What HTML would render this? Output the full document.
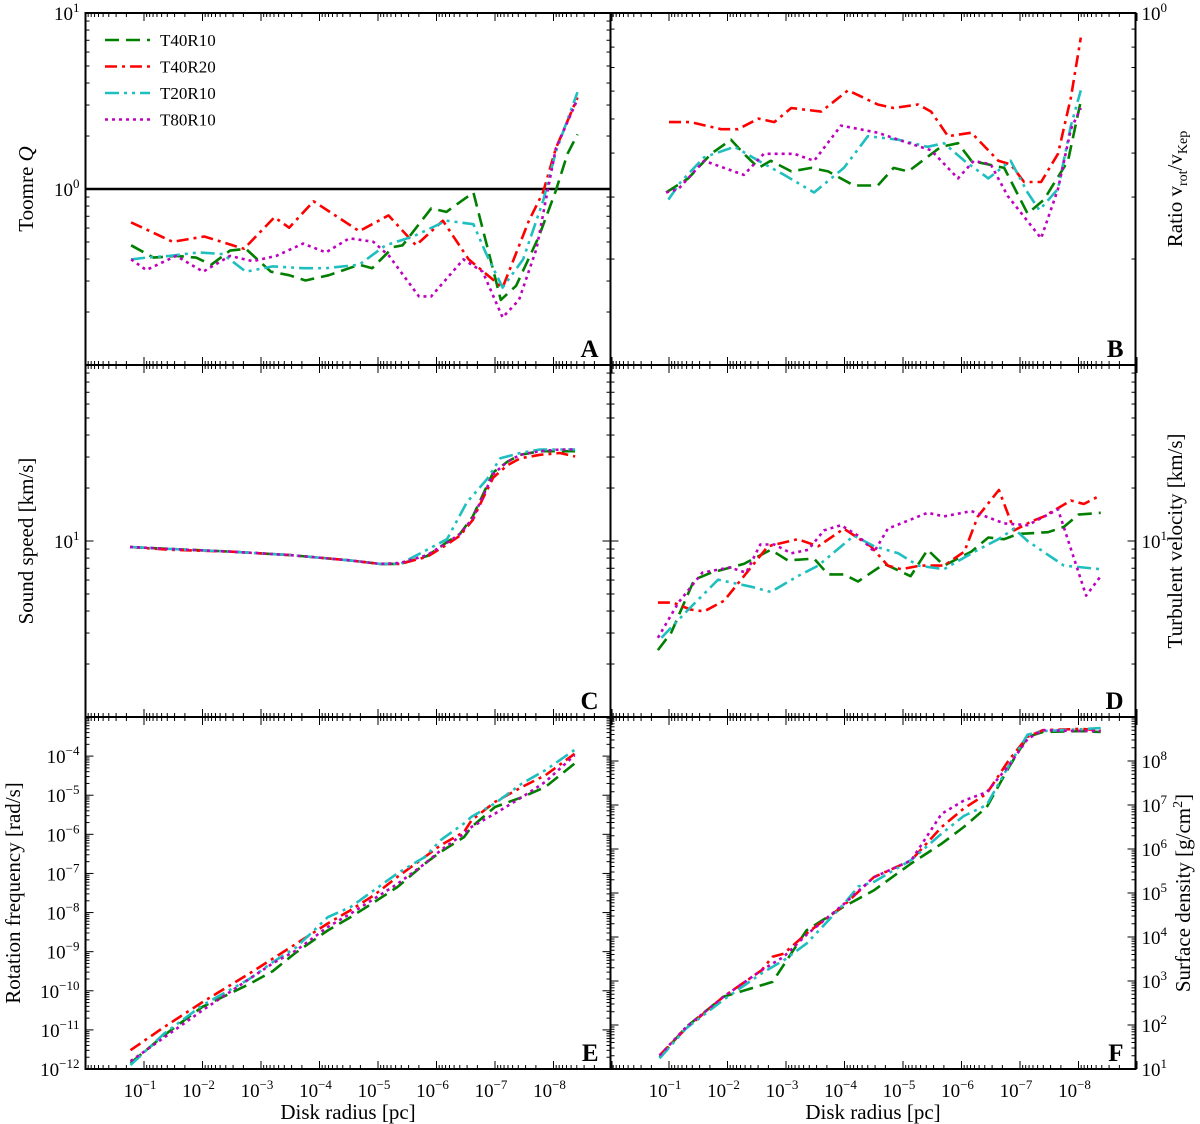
<!DOCTYPE html>
<html><head><meta charset="utf-8"><style>
body{margin:0;background:#fff}
svg{display:block}
text{font-family:"Liberation Serif",serif;fill:#000}
</style></head><body>
<svg id="fig" width="1200" height="1124" viewBox="0 0 1200 1124"></svg>
<script>
// x positions are -log10(radius/pc)
const uA_red=[0.78,1.49,2.03,2.71,3.23,3.48,3.90,4.68,5.18,5.65,6.11,6.55,7.13,7.58,7.82,8.04,8.41];
const vA_red=[-0.19,-0.30,-0.27,-0.34,-0.16,-0.22,-0.07,-0.24,-0.15,-0.32,-0.18,-0.40,-0.56,-0.18,-0.02,0.23,0.52];
const uA_green=[0.78,1.16,1.55,1.89,2.15,2.47,2.74,3.17,3.48,3.76,4.16,4.68,4.90,5.26,5.42,5.91,6.17,6.63,7.10,7.36,7.75,8.04,8.24,8.41];
const vA_green=[-0.32,-0.39,-0.38,-0.39,-0.43,-0.35,-0.34,-0.47,-0.49,-0.52,-0.49,-0.43,-0.45,-0.33,-0.32,-0.11,-0.13,-0.02,-0.63,-0.55,-0.27,-0.01,0.20,0.31];
const uA_cyan=[0.78,1.04,1.43,1.94,2.35,2.74,3.20,3.72,4.11,4.68,5.13,5.60,6.17,6.63,6.84,7.13,7.48,7.82,8.04,8.41];
const vA_cyan=[-0.40,-0.39,-0.38,-0.36,-0.37,-0.47,-0.44,-0.45,-0.45,-0.43,-0.32,-0.27,-0.18,-0.20,-0.36,-0.56,-0.40,-0.07,0.21,0.55];
const uA_mag=[0.78,1.04,1.55,2.01,2.47,2.86,3.26,3.72,4.11,4.51,4.92,5.19,5.70,5.91,6.46,6.79,7.13,7.41,7.71,7.87,8.04,8.41];
const vA_mag=[-0.40,-0.46,-0.38,-0.47,-0.38,-0.41,-0.38,-0.31,-0.36,-0.28,-0.30,-0.38,-0.61,-0.61,-0.40,-0.47,-0.73,-0.63,-0.34,-0.06,0.23,0.51];

const uB_red=[1.00,1.37,1.89,2.18,2.53,2.80,3.09,3.60,4.06,4.57,4.84,5.26,5.48,5.77,6.17,6.63,6.84,7.07,7.36,7.65,7.87,8.04];
const vB_red=[-0.31,-0.31,-0.33,-0.33,-0.30,-0.31,-0.27,-0.28,-0.22,-0.26,-0.27,-0.26,-0.28,-0.35,-0.34,-0.42,-0.43,-0.48,-0.48,-0.40,-0.24,-0.07];
const uB_green=[0.95,1.33,1.72,2.06,2.28,2.53,2.74,3.09,3.43,3.72,4.16,4.57,4.84,5.09,5.65,5.94,6.17,6.73,7.13,7.41,7.82,8.04];
const vB_green=[-0.51,-0.47,-0.40,-0.36,-0.40,-0.44,-0.42,-0.45,-0.44,-0.45,-0.49,-0.49,-0.44,-0.45,-0.38,-0.37,-0.42,-0.44,-0.57,-0.53,-0.42,-0.25];
const uB_cyan=[0.99,1.20,1.60,2.12,2.53,2.97,3.48,3.99,4.40,4.92,5.42,5.70,6.05,6.46,6.84,7.13,7.33,7.65,7.87,8.04];
const vB_cyan=[-0.53,-0.48,-0.41,-0.38,-0.42,-0.46,-0.51,-0.44,-0.35,-0.36,-0.38,-0.37,-0.42,-0.47,-0.42,-0.51,-0.56,-0.50,-0.32,-0.22];
const uB_mag=[0.95,1.16,1.60,2.28,2.62,3.14,3.48,3.94,4.57,4.92,5.48,5.94,6.21,6.50,6.79,7.36,7.65,7.87,8.04];
const vB_mag=[-0.51,-0.50,-0.42,-0.46,-0.40,-0.40,-0.42,-0.32,-0.34,-0.36,-0.39,-0.47,-0.42,-0.43,-0.52,-0.64,-0.50,-0.33,-0.27];

const uC=[0.76,1.44,2.47,3.50,4.52,5.03,5.38,5.84,6.18,6.40,6.62,6.79,6.97,7.21,7.43,7.77,8.11,8.37];
const vC_green=[0.966,0.955,0.94,0.92,0.89,0.87,0.87,0.915,0.994,1.04,1.14,1.26,1.39,1.45,1.49,1.51,1.51,1.51];
const vC_red=[0.966,0.950,0.94,0.92,0.89,0.87,0.87,0.91,0.98,1.03,1.12,1.24,1.36,1.43,1.47,1.49,1.50,1.48];
const vC_mag=[0.966,0.955,0.94,0.92,0.89,0.87,0.875,0.92,0.99,1.04,1.13,1.25,1.38,1.45,1.49,1.51,1.52,1.52];
const uC_cyan=[0.76,1.44,2.47,3.50,4.52,5.03,5.38,5.78,6.18,6.52,6.86,7.09,7.43,7.77,8.11,8.37];
const vC_cyan=[0.966,0.955,0.94,0.92,0.89,0.87,0.87,0.94,1.01,1.22,1.35,1.47,1.50,1.52,1.52,1.52];

const uD_red=[0.81,1.07,1.37,1.60,1.94,2.28,2.69,3.20,3.55,3.99,4.45,4.74,4.97,5.30,5.70,6.05,6.28,6.64,6.90,7.19,7.41,7.87,8.09,8.38];
const vD_red=[0.65,0.65,0.61,0.60,0.66,0.80,0.97,1.01,0.97,1.07,0.97,0.86,0.84,0.86,0.86,0.94,1.14,1.29,1.06,1.11,1.14,1.23,1.21,1.26];
const uD_green=[0.81,1.04,1.43,1.72,2.28,2.74,3.03,3.48,3.72,3.99,4.23,4.68,5.13,5.42,5.70,6.17,6.46,6.73,6.96,7.48,7.75,8.00,8.38];
const vD_green=[0.38,0.48,0.78,0.82,0.87,0.95,0.89,0.90,0.81,0.81,0.77,0.87,0.80,0.95,0.86,0.94,1.02,1.01,1.04,1.05,1.08,1.15,1.16];
const uD_cyan=[0.87,1.33,1.84,2.41,2.74,3.20,3.55,4.16,4.51,4.92,5.26,5.70,6.28,6.63,6.90,7.13,7.75,8.38];
const vD_cyan=[0.45,0.61,0.78,0.74,0.71,0.80,0.86,1.03,0.97,0.93,0.86,0.84,0.95,1.01,1.07,1.00,0.86,0.84];
const uD_mag=[0.81,1.16,1.57,2.04,2.32,2.56,2.80,3.09,3.38,3.65,3.94,4.23,4.51,4.74,5.42,5.70,6.17,6.73,7.13,7.65,8.13,8.38];
const vD_mag=[0.45,0.65,0.82,0.85,0.82,0.98,0.98,0.93,0.95,1.06,1.09,1.03,0.94,1.07,1.16,1.14,1.17,1.10,1.09,1.18,0.69,0.80];

const uE=[0.77,1.34,2.00,2.80,3.20,3.60,4.14,4.53,4.93,5.33,5.80,6.07,6.47,6.60,7.00,7.46,7.86,8.36];
const vE_red=[-11.52,-10.93,-10.29,-9.56,-9.18,-8.80,-8.28,-7.94,-7.56,-7.09,-6.58,-6.28,-5.94,-5.64,-5.17,-4.79,-4.49,-3.94];
const vE_green=[-11.85,-11.14,-10.41,-9.83,-9.50,-9.02,-8.46,-8.12,-7.74,-7.35,-6.75,-6.45,-6.07,-5.81,-5.30,-5.05,-4.79,-4.19];
const vE_cyan=[-11.90,-11.10,-10.37,-9.70,-9.27,-8.89,-8.12,-7.86,-7.43,-7.00,-6.58,-6.15,-5.72,-5.55,-5.21,-4.70,-4.36,-3.84];
const vE_mag=[-11.80,-11.20,-10.50,-9.70,-9.30,-8.97,-8.37,-8.03,-7.65,-7.27,-6.75,-6.41,-5.98,-5.81,-5.47,-5.05,-4.66,-3.98];

const uF_red=[0.84,1.29,1.93,2.58,2.77,2.96,3.35,3.99,4.50,5.14,5.66,6.04,6.43,6.81,7.13,7.39,8.03,8.38];
const vF_red=[1.31,1.92,2.64,3.24,3.55,3.62,4.08,4.72,5.36,5.74,6.50,6.92,7.26,8.02,8.55,8.70,8.73,8.70];
const uF_green=[0.84,1.29,1.93,2.77,3.35,3.99,4.50,5.14,5.66,6.04,6.43,6.81,7.13,7.39,8.03,8.38];
const vF_green=[1.27,1.95,2.64,2.98,4.15,4.69,5.06,5.67,6.12,6.50,6.95,7.86,8.55,8.66,8.68,8.66];
const uF_cyan=[0.84,1.29,1.93,2.58,2.96,3.35,3.99,4.24,4.50,5.14,5.66,6.04,6.43,6.81,7.13,7.39,8.03,8.38];
const vF_cyan=[1.24,1.92,2.57,3.17,3.47,3.85,4.75,5.15,5.25,5.75,6.35,6.75,7.00,7.90,8.60,8.68,8.72,8.75];
const uF_mag=[0.84,1.29,1.93,2.58,2.96,3.35,3.99,4.50,5.14,5.66,6.04,6.43,6.81,7.13,7.39,8.03,8.38];
const vF_mag=[1.31,1.95,2.64,3.24,3.55,4.05,4.75,5.36,5.74,6.80,7.10,7.29,7.90,8.50,8.70,8.68,8.68];

const NS='http://www.w3.org/2000/svg';
const svg=document.getElementById('fig');
function mk(tag,attrs,parent){const e=document.createElementNS(NS,tag);for(const k in attrs)e.setAttribute(k,attrs[k]);(parent||svg).appendChild(e);return e;}
const STY={
 green:{c:'#007f00',d:'14 7'},
 red:{c:'#ff0000',d:'12 5 3 5'},
 cyan:{c:'#1fbfbf',d:'14 5 3 5 3 5'},
 mag:{c:'#bf00bf',d:'3 4'}
};
const PW=525,X0L=85.5,X0R=610.5,XD=58.5;
const rows=[13,365,717,1069];
function panel(name,col,row,ymin,ymax){
 const x0=col?X0R:X0L, top=rows[row], bot=rows[row+1];
 const p={x0,top,bot,ymin,ymax,
  sx:u=>x0+XD*u,
  sy:v=>bot-(v-ymin)/(ymax-ymin)*(bot-top)};
 const g=mk('g',{});
 
 
 p.g=g;return p;
}
function frameTicks(p){
 const g=p.g, x1=p.x0+PW;
 // x ticks
 for(let k=0;k<=9;k++){
  for(let m=1;m<10;m++){
   const u=k+ (m===1?0:(1-Math.log10(m))); // decreasing radius to the right
   const uu=m===1?k:k+1-Math.log10(m)+0; 
   const val=m===1?k:(k+1)-Math.log10(m);
   if(val<0||val>9)continue;
   const x=p.sx(val), L=m===1?8:4;
   const t1=mk('line',{x1:x,y1:p.bot,x2:x,y2:p.bot-L,stroke:'#000','stroke-width':1},g);
   
   
   const t2=mk('line',{x1:x,y1:p.top,x2:x,y2:p.top+L,stroke:'#000','stroke-width':1},g);
   
   
  }
 }
 for(let d=Math.floor(p.ymin);d<=Math.ceil(p.ymax);d++){
  for(let m=1;m<10;m++){
   const v=d+Math.log10(m);
   if(v<p.ymin-1e-6||v>p.ymax+1e-6)continue;
   const y=p.sy(v),L=m===1?8:4;
   const a=mk('line',{x1:p.x0,y1:y,x2:p.x0+L,y2:y,stroke:'#000','stroke-width':1},g);
   
   
   const b=mk('line',{x1:x1,y1:y,x2:x1-L,y2:y,stroke:'#000','stroke-width':1},g);
   
   
  }
 }
}
function series(p,u,v,key,name){
 const s=STY[key];
 const d=u.map((uu,i)=>(i?'L':'M')+p.sx(uu).toFixed(1)+' '+p.sy(v[i]).toFixed(1)).join(' ');
 const e=mk('path',{d,fill:'none',stroke:s.c,'stroke-width':2.6,'stroke-dasharray':s.d,'stroke-linejoin':'round'},p.g);
 
 
}
function ylab(p,exps,side){
 exps.forEach(e=>{
  const y=p.sy(e);
  const x=side==='left'?p.x0-6:p.x0+PW+6;
  const t=mk('text',{x,y:y+7,'font-size':19,'text-anchor':side==='left'?'end':'start'},p.g);
  
  
  if(side==='left'){
   const a=mk('tspan',{},t);a.textContent='10';
   const b=mk('tspan',{dy:-8,'font-size':13},t);b.textContent=String(e).replace('-','\u2212');
  }else{
   const a=mk('tspan',{},t);a.textContent='10';
   const b=mk('tspan',{dy:-8,'font-size':13},t);b.textContent=String(e).replace('-','\u2212');
  }
 });
}
function letter(p,ch){
 const t=mk('text',{x:p.x0+PW-12,y:p.bot-8,'font-size':25,'font-weight':'bold','text-anchor':'end'},p.g);
 t.textContent=ch;
 
 
}
function frame(p){
 const r=mk('rect',{x:p.x0,y:p.top,width:PW,height:p.bot-p.top,fill:'none',stroke:'#000','stroke-width':2},p.g);
 
 
}
function all(p,arr){arr.forEach(a=>series(p,a[0],a[1],a[2],a[3]));}

// Panel A
const A=panel('panel-a-toomre-q',0,0,-1,1);
frameTicks(A);
const hl=mk('line',{x1:A.x0,x2:A.x0+PW,y1:A.sy(0),y2:A.sy(0),stroke:'#000','stroke-width':2.5},A.g);


all(A,[[uA_green,vA_green,'green','series-t40r10'],[uA_red,vA_red,'red','series-t40r20'],[uA_cyan,vA_cyan,'cyan','series-t20r10'],[uA_mag,vA_mag,'mag','series-t80r10']]);
frame(A);ylab(A,[1,0],'left');letter(A,'A');
// Panel B
const B=panel('panel-b-velocity-ratio',1,0,-1,0);
frameTicks(B);
all(B,[[uB_green,vB_green,'green','series-t40r10'],[uB_red,vB_red,'red','series-t40r20'],[uB_cyan,vB_cyan,'cyan','series-t20r10'],[uB_mag,vB_mag,'mag','series-t80r10']]);
frame(B);ylab(B,[0],'right');letter(B,'B');
// Panel C
const C=panel('panel-c-sound-speed',0,1,0,2);
frameTicks(C);
all(C,[[uC,vC_green,'green','series-t40r10'],[uC,vC_red,'red','series-t40r20'],[uC_cyan,vC_cyan,'cyan','series-t20r10'],[uC,vC_mag,'mag','series-t80r10']]);
frame(C);ylab(C,[1],'left');letter(C,'C');
// Panel D
const D=panel('panel-d-turbulent-velocity',1,1,0,2);
frameTicks(D);
all(D,[[uD_green,vD_green,'green','series-t40r10'],[uD_red,vD_red,'red','series-t40r20'],[uD_cyan,vD_cyan,'cyan','series-t20r10'],[uD_mag,vD_mag,'mag','series-t80r10']]);
frame(D);ylab(D,[1],'right');letter(D,'D');
// Panel E
const E=panel('panel-e-rotation-frequency',0,2,-12,-3);
frameTicks(E);
all(E,[[uE,vE_green,'green','series-t40r10'],[uE,vE_red,'red','series-t40r20'],[uE,vE_cyan,'cyan','series-t20r10'],[uE,vE_mag,'mag','series-t80r10']]);
frame(E);ylab(E,[-12,-11,-10,-9,-8,-7,-6,-5,-4],'left');letter(E,'E');
// Panel F
const F=panel('panel-f-surface-density',1,2,1,9);
frameTicks(F);
all(F,[[uF_green,vF_green,'green','series-t40r10'],[uF_red,vF_red,'red','series-t40r20'],[uF_cyan,vF_cyan,'cyan','series-t20r10'],[uF_mag,vF_mag,'mag','series-t80r10']]);
frame(F);ylab(F,[1,2,3,4,5,6,7,8],'right');letter(F,'F');

// x tick labels
[E,F].forEach(p=>{
 for(let k=1;k<=8;k++){
  const t=mk('text',{x:p.sx(k)-4,y:1097,'font-size':19,'text-anchor':'middle'},p.g);
  
  
  const a=mk('tspan',{},t);a.textContent='10';
  const b=mk('tspan',{dy:-8,'font-size':13},t);b.textContent='\u2212'+k;
 }
 const xl=mk('text',{x:p.x0+PW/2,y:1119,'font-size':21,'text-anchor':'middle'},p.g);
 xl.textContent='Disk radius [pc]';
 
 
});

// y axis titles
function ytitle(x,y,name,parts){
 const t=mk('text',{x:0,y:0,'font-size':21,'text-anchor':'middle',transform:`translate(${x},${y}) rotate(-90)`});
 
 
 parts.forEach(pp=>{const s=mk('tspan',pp[1]||{},t);s.textContent=pp[0];});
}
ytitle(33,189,'y-axis-title-a',[['Toomre '],['Q',{'font-style':'italic'}]]);
ytitle(1182,189,'y-axis-title-b',[['Ratio v'],['rot',{'font-size':14,dy:5}],['/v',{dy:-5}],['Kep',{'font-size':14,dy:5}]]);
ytitle(33,541,'y-axis-title-c',[['Sound speed [km/s]']]);
ytitle(1182,541,'y-axis-title-d',[['Turbulent velocity [km/s]']]);
ytitle(20,893,'y-axis-title-e',[['Rotation frequency [rad/s]']]);
ytitle(1190,893,'y-axis-title-f',[['Surface density [g/cm'],['2',{'font-size':14,dy:-8}],[']',{dy:8}]]);

// legend
const lg=mk('g',{});


const legNames=['T40R10','T40R20','T20R10','T80R10'];
const legKeys=['green','red','cyan','mag'];
legNames.forEach((n,i)=>{
 const y=40+i*26.5;
 const s=STY[legKeys[i]];
 const l=mk('line',{x1:105,x2:150,y1:y,y2:y,stroke:s.c,'stroke-width':2.6,'stroke-dasharray':s.d},lg);
 
 
 const t=mk('text',{x:160,y:y+6,'font-size':17},lg);
 t.textContent=n;
 
 
});
</script>
</body></html>
